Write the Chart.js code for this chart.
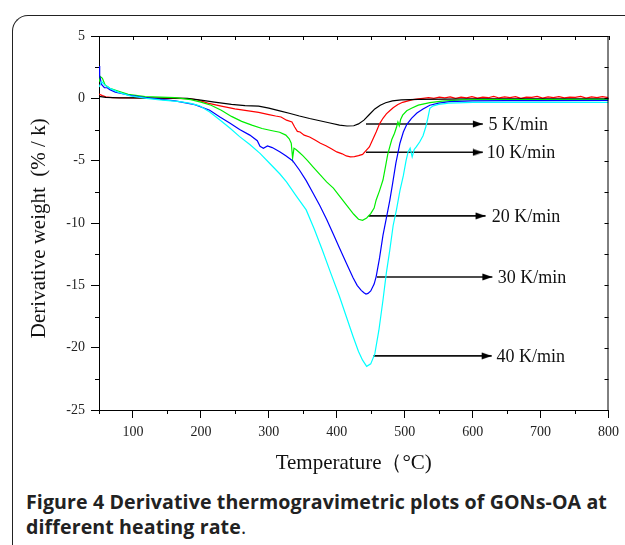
<!DOCTYPE html>
<html><head><meta charset="utf-8">
<script src="https://cdn.jsdelivr.net/npm/chart.js@4.4.0/dist/chart.umd.min.js"></script>
<style>
html,body{margin:0;padding:0;background:#fff;}
body{width:625px;height:545px;position:relative;overflow:hidden;}
#frame{position:absolute;left:12px;top:15px;width:660px;height:600px;border-top:1.5px solid #222;border-left:1.5px solid #222;border-top-left-radius:16px;}
#wrap{position:absolute;left:0;top:0;width:625px;height:480px;}
#cap{position:absolute;left:26px;top:489px;width:598px;font-family:"Open Sans",sans-serif;font-weight:bold;font-size:19.6px;letter-spacing:0.1px;line-height:25px;color:#222;}
#cap .n{font-weight:normal;}
</style></head>
<body>
<div id="frame"></div>
<div id="wrap"><canvas id="c" width="625" height="480"></canvas></div>
<div id="cap">Figure 4 Derivative thermogravimetric plots of GONs-OA at different heating rate<span class="n">.</span></div>
<script>
// ---- tick values ----
const xTickValues=[100,200,300,400,500,600,700,800];
const xMinorValues=[50,150,250,350,450,550,650,750];
const yTickValues=[-25,-20,-15,-10,-5,0,5];
const yMinorValues=[-22.5,-17.5,-12.5,-7.5,-2.5,2.5];

// ---- series: 5 K/min (black) ----
const blackT=[50,60,80,100,130,160,180,200,220,245,265,285,300,316,330,345,360,375,390,404,415,425,432,440,448,456,464,472,482,495,520,560,600,650,700,750,800];
const blackV=[0.15,0.08,0.04,0.03,0.02,0.01,0.0,-0.15,-0.3,-0.48,-0.58,-0.62,-0.78,-1.0,-1.2,-1.42,-1.62,-1.8,-1.98,-2.15,-2.22,-2.2,-2.05,-1.75,-1.3,-0.85,-0.55,-0.35,-0.2,-0.12,-0.08,-0.06,-0.05,-0.05,-0.05,-0.05,-0.05];

// ---- series: 10 K/min (red) ----
const redT=[50,55,60,70,100,130,160,180,195,210,230,250,270,285,300,310,318,326,334,338,342,346,352,360,368,376,384,392,400,408,414,420,426,432,438,443,448,453,458,463,468,473,478,483,490,497,505,512,520,527,535,543,551,559,567,575,583,591,599,607,615,623,631,639,647,655,663,671,679,687,695,703,711,719,727,735,743,751,759,767,775,783,791,800];
const redV=[0.35,0.22,0.12,0.06,0.03,0.02,0.0,-0.03,-0.13,-0.38,-0.62,-0.85,-1.0,-1.12,-1.3,-1.42,-1.5,-1.75,-1.9,-2.3,-2.65,-2.7,-2.95,-3.1,-3.35,-3.6,-3.8,-4.05,-4.3,-4.45,-4.62,-4.7,-4.68,-4.6,-4.5,-4.2,-3.9,-3.3,-2.7,-2.05,-1.6,-1.25,-1.0,-0.75,-0.5,-0.32,-0.2,-0.1,-0.05,0.0,0.06,0.0,0.1,0.03,0.12,0.0,0.1,0.04,0.14,0.02,0.1,0.05,0.15,0.03,0.11,0.06,0.14,0.0,0.1,0.07,0.16,0.02,0.12,0.05,0.13,0.03,0.1,0.07,0.15,0.02,0.12,0.06,0.14,0.05];

// ---- series: 20 K/min (green) ----
const greenT=[50,52,55,59,66,78,93,118,162,185,200,215,230,245,260,275,290,305,316,325,330,333,335,337,340,345,350,357,365,375,385,395,405,415,425,432,438,444,450,455,458,463,468,472,475,478,481,485,488,490,492,494,497,503,510,520,537,555,585,620,700,800];
const greenV=[1.3,1.74,1.6,1.07,0.8,0.59,0.32,0.13,0.05,-0.1,-0.3,-0.55,-0.95,-1.45,-1.85,-2.15,-2.42,-2.6,-2.72,-2.95,-3.25,-3.6,-4.8,-4.0,-4.1,-4.35,-4.6,-5.0,-5.5,-6.1,-6.7,-7.2,-7.9,-8.6,-9.3,-9.7,-9.78,-9.6,-9.25,-8.8,-8.15,-7.4,-6.55,-5.4,-4.5,-3.9,-3.3,-2.8,-2.3,-1.9,-2.2,-1.7,-1.35,-1.0,-0.8,-0.55,-0.35,-0.22,-0.13,-0.1,-0.1,-0.08];

// ---- series: 30 K/min (blue) ----
const blueT=[50,51,54,58,62,66,74,93,118,162,191,213,228,243,257,272,283,287,292,298,305,316,325,335,345,355,365,375,385,395,404,414,424,430,436,440,443,446,450,455,458,463,468,473,478,482,487,493,498,503,510,518,527,537,550,566,600,650,700,800];
const blueV=[2.6,1.8,1.1,0.85,0.85,0.7,0.5,0.27,0.05,-0.2,-0.5,-0.95,-1.5,-2.0,-2.5,-2.95,-3.4,-3.85,-4.0,-3.82,-3.95,-4.28,-4.6,-5.0,-5.75,-6.6,-7.6,-8.6,-9.7,-10.9,-12.0,-13.2,-14.4,-15.0,-15.4,-15.6,-15.7,-15.65,-15.45,-14.9,-14.3,-12.8,-11.0,-9.6,-8.2,-6.9,-5.2,-3.6,-2.7,-2.1,-1.6,-1.18,-0.85,-0.55,-0.38,-0.27,-0.2,-0.18,-0.18,-0.17];

// ---- series: 40 K/min (cyan) ----
const cyanT=[50,54,58,66,78,96,120,140,169,185,198,213,228,243,257,272,287,300,316,326,340,355,367,379,391,404,414,424,432,438,444,450,456,462,468,473,478,483,488,493,498,502,505,508,511,514,517,522,527,531,534,537,542,550,565,600,700,800];
const cyanV=[0.9,1.35,1.1,0.8,0.5,0.2,0.0,-0.13,-0.27,-0.4,-0.6,-1.1,-1.74,-2.4,-3.07,-3.7,-4.41,-5.15,-6.05,-6.7,-7.8,-8.95,-10.5,-12.2,-14.0,-15.9,-17.5,-19.1,-20.3,-21.0,-21.5,-21.3,-20.5,-18.6,-16.2,-14.0,-12.2,-10.2,-8.9,-7.4,-6.2,-5.0,-4.3,-4.0,-4.7,-4.1,-3.9,-3.5,-3.0,-2.3,-1.6,-0.8,-0.6,-0.48,-0.38,-0.33,-0.32,-0.32];

// ---- arrow annotations ----
const rateLabels=['5 K/min','10 K/min','20 K/min','30 K/min','40 K/min'];
const arrowY=[-2.06,-4.33,-9.43,-14.33,-20.66];
const arrowStartT=[443,443,447,459,454];
const arrowEndT=[615,615,619,629,628];
const labelT=[623.5,620.6,628,636.8,635.3];

function pairs(t,v){return t.map((x,i)=>({x:x,y:v[i]}));}

// arrowhead image used as point style
const head=document.createElement('canvas');
head.width=24;head.height=8;
(function(){const g=head.getContext('2d');g.fillStyle='#000';g.beginPath();g.moveTo(2,0.5);g.lineTo(12,4);g.lineTo(2,7.5);g.closePath();g.fill();})();

const curve=(label,t,v,color)=>({type:'line',label:label,data:pairs(t,v),borderColor:color,backgroundColor:color,borderWidth:1.2,pointRadius:0,tension:0,fill:false});
const datasets=[
  curve('40 K/min',cyanT,cyanV,'#00ffff'),
  curve('30 K/min',blueT,blueV,'#0000ff'),
  curve('20 K/min',greenT,greenV,'#00ee00'),
  curve('5 K/min',blackT,blackV,'#000000'),
  curve('10 K/min',redT,redV,'#ff0000')
];
arrowY.forEach((yv,i)=>{
  datasets.push({type:'line',label:'arrow'+i,data:[{x:arrowStartT[i],y:yv},{x:arrowEndT[i],y:yv}],
    borderColor:'#111',borderWidth:1.6,tension:0,fill:false,
    pointRadius:[0,4],pointHoverRadius:0,pointStyle:['circle',head],pointBorderWidth:0});
});

const serif='"Liberation Serif","Times New Roman",serif';
const frameTicks={id:'frameTicks',afterDraw(c){
  const ctx=c.ctx,a=c.chartArea,x=c.scales.x,y=c.scales.y;
  ctx.save();ctx.strokeStyle='#000';ctx.lineWidth=1;ctx.beginPath();
  ctx.moveTo(a.left,a.top+0.5);ctx.lineTo(a.right,a.top+0.5);
  ctx.moveTo(a.right-0.5,a.top);ctx.lineTo(a.right-0.5,a.bottom);
  xTickValues.concat(xMinorValues).forEach(v=>{const p=Math.round(x.getPixelForValue(v))+0.5;ctx.moveTo(p,a.top);ctx.lineTo(p,a.top+4);});
  xMinorValues.forEach(v=>{const p=Math.round(x.getPixelForValue(v))+0.5;ctx.moveTo(p,a.bottom);ctx.lineTo(p,a.bottom+4);});
  yMinorValues.forEach(v=>{const p=Math.round(y.getPixelForValue(v))+0.5;ctx.moveTo(a.left,p);ctx.lineTo(a.left-4,p);});
  yTickValues.concat(yMinorValues).forEach(v=>{const p=Math.round(y.getPixelForValue(v))+0.5;ctx.moveTo(a.right,p);ctx.lineTo(a.right-4,p);});
  ctx.stroke();
  ctx.fillStyle='#111';ctx.font='18px '+serif;ctx.textAlign='left';ctx.textBaseline='middle';
  rateLabels.forEach((s,i)=>{ctx.fillText(s,x.getPixelForValue(labelT[i]),y.getPixelForValue(arrowY[i])+1);});
  ctx.restore();
}};

new Chart(document.getElementById('c'),{
  type:'line',
  data:{datasets:datasets},
  options:{
    responsive:false,animation:false,events:[],
    layout:{padding:{left:20,right:16,top:36,bottom:0}},
    plugins:{legend:{display:false},tooltip:{enabled:false}},
    scales:{
      x:{type:'linear',min:50,max:800,
        afterBuildTicks:s=>{s.ticks=xTickValues.map(v=>({value:v}));},
        afterFit:s=>{s.height=70;},
        grid:{drawOnChartArea:false,tickLength:8,color:'#000',tickWidth:1},
        border:{color:'#000',width:1},
        ticks:{color:'#222',font:{family:serif,size:14},padding:6,maxRotation:0,autoSkip:false},
        title:{display:true,text:'Temperature（°C)',color:'#111',font:{family:serif,size:21},padding:{top:0,bottom:4}}
      },
      y:{type:'linear',min:-25,max:5,
        afterBuildTicks:s=>{s.ticks=yTickValues.map(v=>({value:v}));},
        afterFit:s=>{s.width=79;},
        grid:{drawOnChartArea:false,tickLength:8,color:'#000',tickWidth:1},
        border:{color:'#000',width:1},
        ticks:{color:'#222',font:{family:serif,size:14},padding:6},
        title:{display:true,text:'Derivative weight  (% / k)\u2002',color:'#111',font:{family:serif,size:21},padding:{top:7,bottom:0}}
      }
    }
  },
  plugins:[frameTicks]
});
</script>
</body></html>
